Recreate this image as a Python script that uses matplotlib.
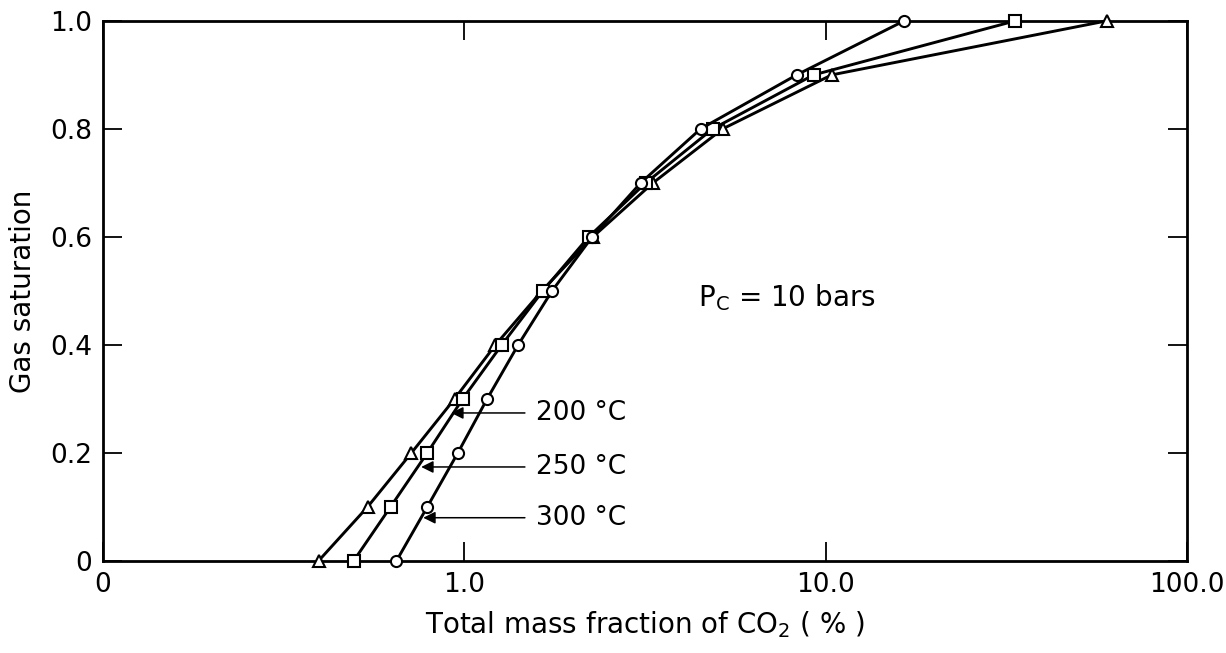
import matplotlib.pyplot as plt
import matplotlib.ticker as mticker

# Gas saturation levels (same for each curve)
sat = [0.0, 0.1, 0.2, 0.3, 0.4, 0.5, 0.6, 0.7, 0.8, 0.9, 1.0]

# Total mass fraction of CO2 (%)
co2_200 = [0.395, 0.54, 0.714, 0.94, 1.22, 1.64, 2.27, 3.33, 5.19, 10.4, 60.0]
co2_250 = [0.494, 0.625, 0.79, 0.99, 1.27, 1.65, 2.21, 3.18, 4.87, 9.27, 33.5]
co2_300 = [0.649, 0.79, 0.96, 1.157, 1.41, 1.75, 2.26, 3.08, 4.51, 8.32, 16.5]

curve_labels = ["200 °C", "250 °C", "300 °C"]
markers = ["^", "s", "o"]
# where each label arrow points (x, y) and where the label sits
arrow_tips = [(0.92, 0.274), (0.76, 0.174), (0.77, 0.080)]
label_x = 1.58

x_ticks = [0.1, 1.0, 10.0, 100.0]
x_ticklabels = ["0", "1.0", "10.0", "100.0"]
y_ticks = [0.0, 0.2, 0.4, 0.6, 0.8, 1.0]
y_ticklabels = ["0", "0.2", "0.4", "0.6", "0.8", "1.0"]

plt.rcParams["font.family"] = ["DejaVu Sans"]

fig = plt.figure(figsize=(12.26, 6.53), dpi=100)
ax = fig.add_axes([0.084, 0.141, 0.884, 0.827])

for xs, m in zip([co2_200, co2_250, co2_300], markers):
    ax.plot(xs, sat, color="black", linewidth=2.1, marker=m, markersize=8,
            markerfacecolor="white", markeredgecolor="black", markeredgewidth=1.5,
            clip_on=False, zorder=3)

for lab, (tx, ty) in zip(curve_labels, arrow_tips):
    ax.annotate(lab, xy=(tx, ty), xytext=(label_x, ty), ha="left", va="center",
                fontsize=19,
                arrowprops=dict(arrowstyle="-|>", color="black", lw=1.1,
                                mutation_scale=18, shrinkA=6, shrinkB=0))

ax.text(4.43, 0.487, r"P$_\mathregular{C}$ = 10 bars", fontsize=20, ha="left", va="center")

ax.set_xscale("log")
ax.set_xlim(0.1, 100)
ax.set_ylim(0, 1.0)
ax.xaxis.set_major_locator(mticker.FixedLocator(x_ticks))
ax.xaxis.set_minor_locator(mticker.NullLocator())
ax.set_xticks(x_ticks, x_ticklabels)
ax.set_yticks(y_ticks, y_ticklabels)

ax.tick_params(direction="in", length=14, width=1.3, top=True, right=True,
               labelsize=19, pad=8)
for sp in ax.spines.values():
    sp.set_linewidth(2.0)

ax.set_xlabel(r"Total mass fraction of CO$_2$ ( % )", fontsize=20, labelpad=8)
ax.set_ylabel("Gas saturation", fontsize=20, labelpad=9)

plt.savefig("out.png", dpi=100)
